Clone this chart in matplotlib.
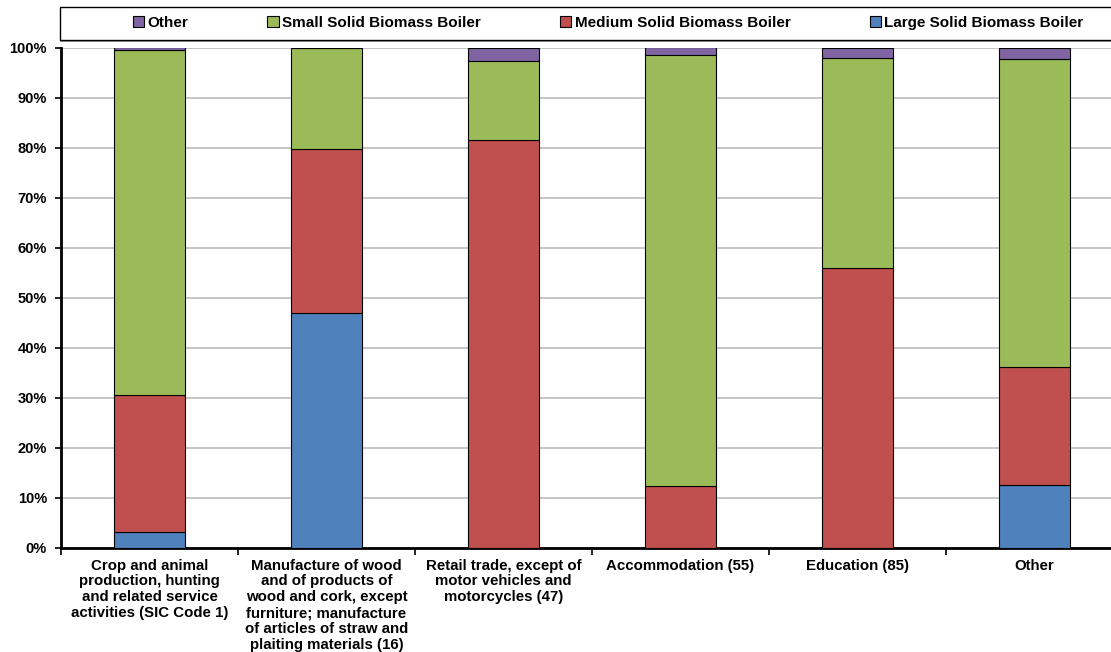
import matplotlib
matplotlib.use("Agg")
import matplotlib.pyplot as plt
from matplotlib.patches import Rectangle
import numpy as np

categories = [
    "Crop and animal\nproduction, hunting\nand related service\nactivities (SIC Code 1)",
    "Manufacture of wood\nand of products of\nwood and cork, except\nfurniture; manufacture\nof articles of straw and\nplaiting materials (16)",
    "Retail trade, except of\nmotor vehicles and\nmotorcycles (47)",
    "Accommodation (55)",
    "Education (85)",
    "Other",
]
large = [3.1, 47.0, 0.0, 0.0, 0.0, 12.6]
medium = [27.5, 32.7, 81.5, 12.3, 55.9, 23.6]
small = [69.0, 20.3, 15.9, 86.3, 42.1, 61.5]
other = [0.4, 0.0, 2.6, 1.4, 2.0, 2.3]

series = [
    ("Large Solid Biomass Boiler", large, "#4F81BD"),
    ("Medium Solid Biomass Boiler", medium, "#C0504D"),
    ("Small Solid Biomass Boiler", small, "#9BBB59"),
    ("Other", other, "#8064A2"),
]

plt.rcParams.update({"font.family": "Liberation Sans", "font.weight": "bold",
                     "font.size": 10})

W, H = 1111, 652
fig = plt.figure(figsize=(W / 100, H / 100), dpi=100)
ax = fig.add_axes([61 / W, 1 - 547.5 / H, 1062 / W, 500 / H])

x = np.arange(len(categories))
bottom = np.zeros(len(categories))
handles = []
for name, vals, col in series:
    vals = np.array(vals)
    b = ax.bar(x, vals, 0.4, bottom=bottom, color=col, edgecolor="black",
               linewidth=0.8, label=name, zorder=3)
    handles.append(b)
    bottom += vals

ax.set_xlim(-0.5, len(categories) - 0.5)
ax.set_ylim(0, 100)
ax.set_yticks(np.arange(0, 101, 10))
ax.set_yticklabels([f"{v}%" for v in range(0, 101, 10)], fontsize=10.5, fontweight="bold")
ax.yaxis.grid(True, color="#C0C0C0", linewidth=1.3, zorder=0)

# category labels centred under the bars, ticks on the boundaries
ax.set_xticks(x)
ax.set_xticklabels(categories, fontsize=10.8, fontweight="bold", linespacing=1.17)
ax.tick_params(axis="x", length=0, pad=8)
ax.set_xticks(np.arange(-0.5, len(categories), 1.0), minor=True)
ax.tick_params(axis="x", which="minor", length=5, width=1.2, direction="out")
ax.tick_params(axis="y", length=4, width=1.2, pad=6)

for s in ("top", "right"):
    ax.spines[s].set_visible(False)
for s in ("left", "bottom"):
    ax.spines[s].set_linewidth(2)

# legend box across the top, with a grey drop line under it
fig.patches.append(Rectangle((60 / W, 1 - 42 / H), 1.0, 33 / H, transform=fig.transFigure,
                             facecolor="#A0A0A0", edgecolor="none", zorder=1))
fig.patches.append(Rectangle((60 / W, 1 - 40 / H), 1.0, 33 / H, transform=fig.transFigure,
                             facecolor="white", edgecolor="black", linewidth=1.0, zorder=2))

leg = fig.legend(handles[::-1], [h.get_label() for h in handles[::-1]],
                 loc="center", bbox_to_anchor=(608 / W, 1 - 23 / H),
                 ncol=4, frameon=False, fontsize=11, handlelength=0.75, handleheight=0.75,
                 handletextpad=0.2, columnspacing=5.2, borderaxespad=0)
for t in leg.get_texts():
    t.set_fontweight("bold")
for h in leg.legend_handles:
    h.set_edgecolor("black")
    h.set_linewidth(0.8)

fig.savefig("out.png", dpi=100)
